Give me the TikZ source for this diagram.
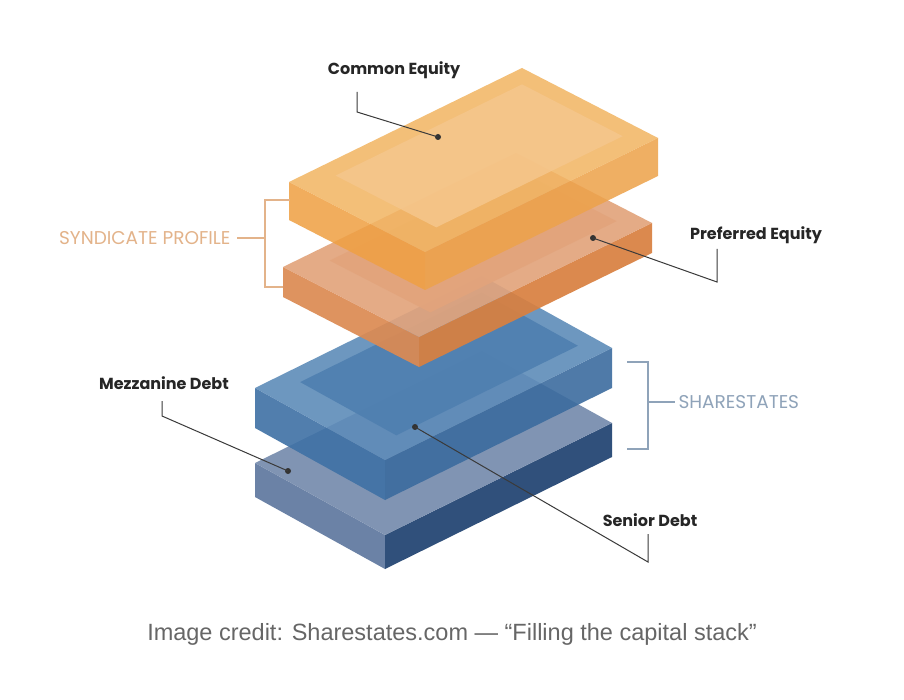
\documentclass[tikz,border=0pt]{standalone}
\usepackage{fontspec}
\setmainfont{Liberation Sans}
\newfontfamily\lbl{Poppins}
\usetikzlibrary{calc}
\definecolor{ceT}{HTML}{F2B562}\definecolor{ceI}{HTML}{F5C68C}\definecolor{ceL}{HTML}{EFA043}\definecolor{ceR}{HTML}{EDA24A}
\definecolor{peT}{HTML}{E2A47C}\definecolor{peL}{HTML}{DC8A52}\definecolor{peR}{HTML}{D98040}
\definecolor{mdT}{HTML}{5E8CB9}\definecolor{mdI}{HTML}{4F7FB0}\definecolor{mdL}{HTML}{3F71A5}\definecolor{mdR}{HTML}{3C6C9F}
\definecolor{sdT}{HTML}{8094B3}\definecolor{sdL}{HTML}{6B82A6}\definecolor{sdR}{HTML}{30507B}
\definecolor{synd}{HTML}{E3B38A}\definecolor{shr}{HTML}{8FA3B9}\definecolor{lead}{HTML}{3A3A3A}
\newcommand\slab[9]{%
 \begin{scope}[opacity=#8]
 \fill[#6] (#1) -- ++(#3) -- ++(0,#4) -- ++($-1*(#3)$) -- cycle;
 \fill[#7] ($(#1)+(#3)$) -- ++(#2) -- ++(0,#4) -- ++($-1*(#2)$) -- cycle;
 \fill[#5] (#1) -- ++(#2) -- ++(#3) -- ++($-1*(#2)$) -- cycle;
 \fill[#9] ($(#1)+0.13*(#2)+0.12*(#3)$) -- ++($0.8*(#2)$) -- ++($0.74*(#3)$) -- ++($-0.8*(#2)$) -- cycle;
 \end{scope}}
\tikzset{lab/.style={font=\lbl\bfseries\fontsize{16}{18}\selectfont,text=black!85},
 ld/.style={draw=lead,line width=1pt},
 dotn/.style={circle,fill=black!80,inner sep=0pt,minimum size=6pt}}
\begin{document}
\begin{tikzpicture}[x=1pt,y=-1pt]
\useasboundingbox (0,0) rectangle (904,700);
\fill[white] (0,0) rectangle (904,700);
\slab{255,463}{227,-112}{130,72}{34}{sdT}{sdL}{sdR}{1}{sdT}
\slab{255,388}{227,-112}{130,72}{40}{mdT}{mdL}{mdR}{0.9}{mdI}
\slab{283,267}{233,-114}{136,70}{30}{peT}{peL}{peR}{0.92}{peT}
\slab{289,182}{233,-114}{136,70}{38}{ceT}{ceL}{ceR}{0.86}{ceI}
\node[lab] (ce) at (394,70) {Common Equity};
\node[lab] (pe) at (756,235) {Preferred Equity};
\node[lab] (mz) at (164,383) {Mezzanine Debt};
\node[lab] (sd) at (650,520) {Senior Debt};
\node[dotn] (dce) at (438,137) {};
\node[dotn] (dpe) at (593,238) {};
\node[dotn] (dmz) at (288,471) {};
\node[dotn] (dsd) at (415,427) {};
\coordinate (c1) at (357,92);\coordinate (c2) at (357,112);
\draw[ld] (c1) -- (c2) -- (dce.center);
\coordinate (p1) at (717,249);\coordinate (p2) at (717,282);
\draw[ld] (dpe.center) -- (p2) -- (p1);
\coordinate (m1) at (162,401);\coordinate (m2) at (162,416);
\draw[ld] (m1) -- (m2) -- (dmz.center);
\coordinate (s1) at (648,534);\coordinate (s2) at (648,562);
\draw[ld] (dsd.center) -- (s2) -- (s1);
\node[anchor=east,text=synd,font=\lbl\fontsize{18.5}{20}\selectfont] (syn) at (234,238) {SYNDICATE PROFILE};
\draw[synd,line width=1.1pt] (290,200) -- (265,200) -- (265,287) -- (283,287);
\draw[synd,line width=1.1pt] (syn.east) ++(3,0) coordinate (se) (se) -- (265,238);
\node[anchor=west,text=shr,font=\lbl\fontsize{18.5}{20}\selectfont] (sh) at (675,402) {SHARESTATES};
\draw[shr,line width=1.1pt] (627,362) -- (648,362) -- (648,449) -- (627,449);
\draw[shr,line width=1.1pt] (648,402) -- (sh.west);
\node[text=black!60,font=\fontsize{23.5}{27}\selectfont] (cap) at (452,634) {Image credit: Sharestates.com — “Filling the capital stack”};
\end{tikzpicture}
\end{document}
